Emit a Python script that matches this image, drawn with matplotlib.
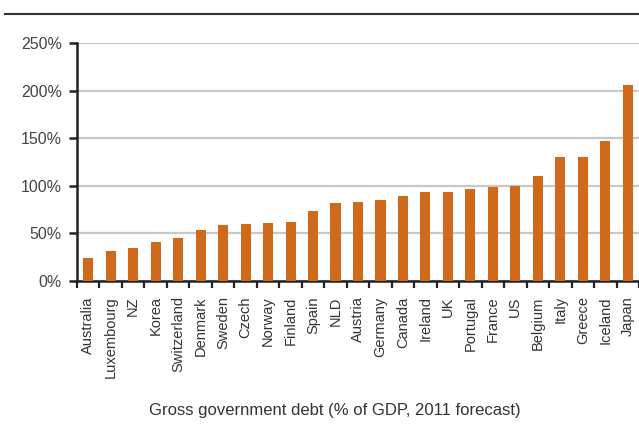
import matplotlib
matplotlib.use("Agg")
import matplotlib.pyplot as plt
from matplotlib.lines import Line2D
import numpy as np

countries = ["Australia", "Luxembourg", "NZ", "Korea", "Switzerland", "Denmark",
             "Sweden", "Czech", "Norway", "Finland", "Spain", "NLD", "Austria",
             "Germany", "Canada", "Ireland", "UK", "Portugal", "France", "US",
             "Belgium", "Italy", "Greece", "Iceland", "Japan"]
debt = [24, 32, 35, 41, 45, 54, 59, 60, 61, 62, 74, 82, 83, 85, 89, 93, 94, 97,
        99, 100, 110, 130, 130, 147, 206]
yticks = [0, 50, 100, 150, 200, 250]
ytick_labels = ["0%", "50%", "100%", "150%", "200%", "250%"]
xlabel = "Gross government debt (% of GDP, 2011 forecast)"

plt.rcParams['font.family'] = ['Liberation Sans', 'DejaVu Sans']
W, H = 639, 442
fig = plt.figure(figsize=(W / 100, H / 100), dpi=100)
ax = fig.add_axes([77 / W, 1 - 281 / H, 1 - 77 / W, (281 - 43) / H])

x = np.arange(len(countries))
ax.bar(x, debt, width=0.45, color="#CF6A1D", zorder=3)

ax.set_xlim(-0.5, len(countries) - 0.5)
ax.set_ylim(0, 250)
ax.set_yticks(yticks)
ax.set_yticklabels(ytick_labels)
ax.yaxis.grid(True, color="#C8C8C8", lw=1.6, zorder=0)
ax.set_axisbelow(True)

ax.set_xticks(x)
ax.set_xticklabels(countries, rotation=90, ha="center", va="top")
ax.set_xticks(np.arange(len(countries) + 1) - 0.5, minor=True)
ax.tick_params(axis="x", which="major", length=0, pad=11, labelsize=10.5, labelcolor="#333333")
ax.tick_params(axis="x", which="minor", length=5, width=1.6, color="#222222", direction="out")
ax.tick_params(axis="y", length=6, width=1.8, color="#222222", pad=5, labelsize=11.5, labelcolor="#444444")

for s in ["top", "right"]:
    ax.spines[s].set_visible(False)
for s in ["left", "bottom"]:
    ax.spines[s].set_color("#222222")
    ax.spines[s].set_linewidth(1.8)

fig.text(335 / W, 1 - 410 / H, xlabel, ha="center", va="center", fontsize=12, color="#333333")
fig.add_artist(Line2D([5 / W, 1.0], [1 - 14 / H, 1 - 14 / H], color="#333333", lw=1.5,
                      transform=fig.transFigure))

fig.savefig("out.png", dpi=100)
